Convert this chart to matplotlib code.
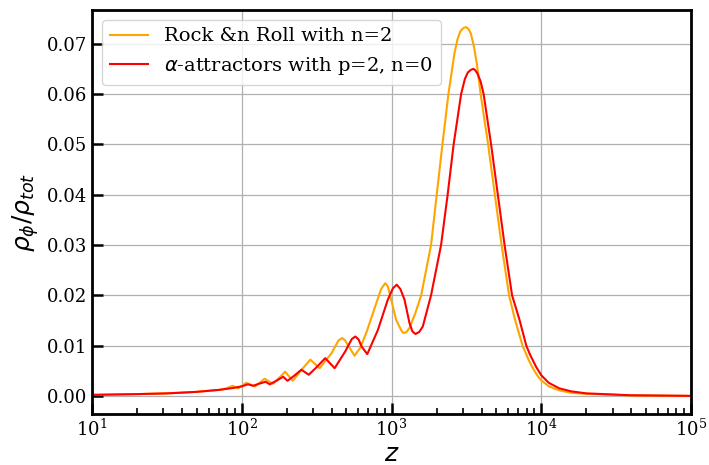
import matplotlib
matplotlib.use('Agg')
import matplotlib.pyplot as plt

# values
z_rnr = [10, 20, 32, 50, 71, 79, 87, 95, 107, 123, 142, 162, 195, 219, 251, 287,
         331, 398, 442, 467, 490, 519, 566, 617, 678, 791, 851, 908, 944, 971,
         1074, 1159, 1189, 1222, 1259, 1318, 1445, 1578, 1837, 2004, 2188, 2399,
         2630, 2754, 2884, 3020, 3148, 3273, 3388, 3548, 3715, 3936, 4416, 4898,
         5433, 6095, 6683, 7499, 8222, 8710, 9120, 9550, 10000, 11220, 13183,
         15849, 19953, 39811, 100000]
rho_rnr = [0.0002, 0.00035, 0.0005, 0.0008, 0.0012, 0.0015, 0.0020, 0.0015,
           0.0026, 0.0019, 0.0034, 0.0024, 0.0048, 0.0030, 0.0052, 0.0072,
           0.0055, 0.0085, 0.0110, 0.0115, 0.0110, 0.0098, 0.0080, 0.0095,
           0.0125, 0.0184, 0.0212, 0.0224, 0.0218, 0.0204, 0.0151, 0.0131,
           0.0126, 0.0125, 0.0127, 0.0135, 0.0165, 0.0200, 0.0300, 0.0400,
           0.0500, 0.0600, 0.0680, 0.0708, 0.0725, 0.0731, 0.0733, 0.0729,
           0.0720, 0.0695, 0.0660, 0.0600, 0.0500, 0.0400, 0.0300, 0.0200,
           0.0151, 0.0100, 0.0072, 0.0057, 0.0047, 0.0038, 0.0031, 0.0019,
           0.0011, 0.0006, 0.0004, 0.0001, 0.0]

z_alpha = [10, 20, 32, 50, 71, 89, 100, 110, 119, 130, 144, 154, 170, 189, 202,
           224, 250, 280, 316, 361, 417, 490, 543, 573, 603, 631, 689, 811, 944,
           1023, 1084, 1148, 1222, 1318, 1380, 1445, 1531, 1618, 1837, 2143,
           2371, 2600, 2917, 3090, 3236, 3388, 3524, 3631, 3758, 3936, 4121,
           4624, 5129, 5689, 6383, 7161, 7943, 8414, 9226, 10000, 11220, 13183,
           15849, 19953, 39811, 100000]
rho_alpha = [0.0002, 0.00035, 0.0005, 0.0008, 0.0012, 0.0016, 0.0019, 0.0023,
             0.0020, 0.0024, 0.0028, 0.0023, 0.0030, 0.0038, 0.0030, 0.0040,
             0.0052, 0.0042, 0.0057, 0.0075, 0.0055, 0.0088, 0.0113, 0.0118,
             0.0112, 0.0098, 0.0083, 0.0131, 0.0191, 0.0214, 0.0221, 0.0212,
             0.0191, 0.0145, 0.0128, 0.0123, 0.0127, 0.0138, 0.0200, 0.0300,
             0.0400, 0.0500, 0.0600, 0.0630, 0.0643, 0.0648, 0.0650, 0.0647,
             0.0640, 0.0625, 0.0600, 0.0500, 0.0400, 0.0300, 0.0200, 0.0151,
             0.0100, 0.0082, 0.0058, 0.0041, 0.0026, 0.0015, 0.0009, 0.0005,
             0.00012, 0.0]

plt.rcParams['font.family'] = 'DejaVu Serif'

fig = plt.figure(figsize=(7.09, 4.65), dpi=100)
ax = fig.add_axes([0.1298, 0.1097, 0.8448, 0.8688])

ax.plot(z_rnr, rho_rnr, color='orange', lw=1.5, label='Rock &n Roll with n=2')
ax.plot(z_alpha, rho_alpha, color='red', lw=1.5, label=r'$\alpha$-attractors with p=2, n=0')

ax.set_xscale('log')
ax.set_xlim(10, 1e5)
ax.set_ylim(-0.0036, 0.0767)
ax.set_yticks([0.0, 0.01, 0.02, 0.03, 0.04, 0.05, 0.06, 0.07])
ax.grid(True, which='major', color='#b0b0b0', lw=0.9)

ax.tick_params(which='major', direction='in', length=8, width=1.8, labelsize=13)
ax.tick_params(which='minor', direction='in', length=4, width=1.2)
for s in ax.spines.values():
    s.set_linewidth(2)

ax.set_xlabel('$z$', fontsize=18, labelpad=2)
ax.set_ylabel(r'$\rho_\phi/\rho_{tot}$', fontsize=18)
ax.legend(loc='upper left', fontsize=14)

plt.savefig('out.png', dpi=100)
